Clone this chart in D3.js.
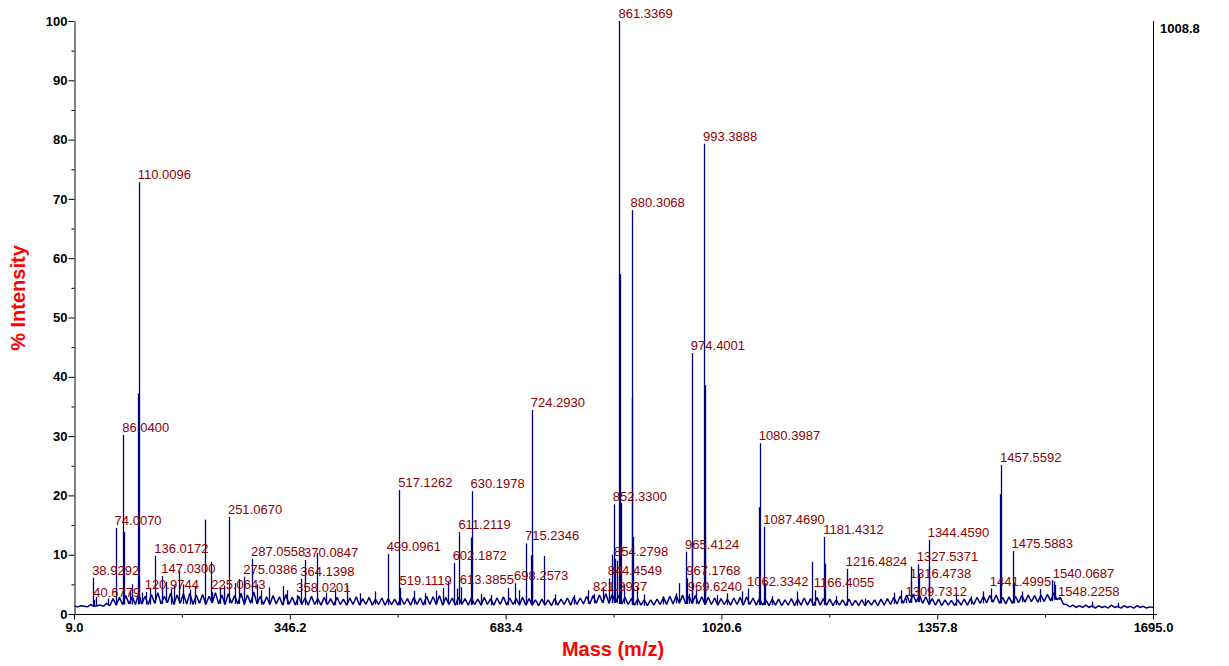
<!DOCTYPE html>
<html>
<head>
<meta charset="utf-8">
<script src="https://cdn.jsdelivr.net/npm/d3@7"></script>
<style>
  body { margin: 0; background: #fff; }
  svg { display: block; }
</style>
</head>
<body>
<div id="spectrum"></div>
<script>
// axis ticks
const xTicks = [9.0, 346.2, 683.4, 1020.6, 1357.8, 1695.0];
const xMinor = [177.6, 514.8, 852.0, 1189.2, 1526.4];
const yTicks = [0, 10, 20, 30, 40, 50, 60, 70, 80, 90, 100];
const yMinor = [5, 15, 25, 35, 45, 55, 65, 75, 85, 95];
const maxCounts = "1008.8";

// labelled peaks (m/z, % intensity)
const labelMz = [38.9292, 40.6779, 74.0070, 86.0400, 110.0096, 120.9744, 136.0172, 147.0300,
  225.0643, 251.0670, 275.0386, 287.0558, 358.0201, 364.1398, 370.0847, 499.0961, 517.1262,
  519.1119, 602.1872, 611.2119, 613.3855, 630.1978, 698.2573, 715.2346, 724.2930, 821.3937,
  844.4549, 852.3300, 854.2798, 861.3369, 880.3068, 965.4124, 967.1768, 969.6240, 974.4001,
  993.3888, 1062.3342, 1080.3987, 1087.4690, 1166.4055, 1181.4312, 1216.4824, 1309.7312,
  1316.4738, 1327.5371, 1344.4590, 1441.4995, 1457.5592, 1475.5883, 1540.0687, 1548.2258];
const labelInt = [6.1, 2.4, 14.5, 30.2, 72.8, 3.7, 9.8, 6.4,
  3.7, 16.4, 6.3, 9.3, 3.2, 5.9, 9.1, 10.1, 20.9,
  4.4, 8.6, 13.8, 4.5, 20.7, 5.2, 11.9, 34.4, 3.4,
  6.0, 18.5, 9.3, 100, 68.1, 10.5, 6.0, 3.4, 44.0,
  79.3, 4.3, 28.8, 14.7, 4.0, 13.0, 7.6, 2.6,
  5.5, 8.4, 12.5, 4.3, 25.1, 10.6, 5.5, 2.6];

// other peaks without labels
const otherMz = [43.0, 62.0, 87.0, 96.0, 100.2, 108.9, 111.0, 114.5, 128, 153, 160, 166, 173, 180,
  190, 198, 214.4, 222.7, 237, 244, 260, 267, 295, 301, 313, 336, 342, 388, 402, 417, 436, 456,
  480, 541, 558, 575, 585, 594, 607, 629.2, 645, 660, 687, 705, 723.3, 725.3, 743, 760, 790, 812,
  835, 849.6, 857, 862.3, 863.3, 869, 881.3, 882.3, 889, 900, 930, 950, 955, 975.4, 981, 994.4,
  995.4, 1013, 1030, 1053, 1079.4, 1088.5, 1100, 1138, 1162.7, 1182.4, 1200, 1245, 1290, 1301,
  1317.4, 1329, 1345.5, 1387, 1410, 1429, 1456.5, 1477.6, 1490, 1518, 1537, 1542.5, 1599, 1640];
const otherInt = [2.9, 2.6, 13.8, 4.0, 5.0, 37.2, 5.7, 3.6, 4.4, 5.4, 4.2, 4.8, 7.3, 5.0,
  4.1, 4.6, 15.9, 8.8, 4.4, 4.8, 5.2, 5.9, 5.0, 4.0, 4.5, 4.7, 4.0, 10.3, 3.6, 4.2, 4.9, 3.5,
  3.8, 3.9, 3.5, 3.9, 4.4, 5.5, 4.3, 12.9, 3.4, 3.2, 4.4, 4.0, 9.9, 10.0, 9.8, 3.3, 3.2, 4.0,
  4.4, 10.0, 9.0, 57.3, 18.7, 5.0, 36.4, 13.0, 4.5, 3.3, 3.0, 3.5, 5.2, 12.0, 4.0, 38.6,
  13.0, 3.2, 3.5, 3.8, 18.0, 5.2, 3.0, 3.8, 8.8, 8.5, 3.0, 2.6, 3.6, 4.0,
  8.0, 6.8, 8.0, 3.5, 3.0, 3.8, 20.2, 5.2, 3.8, 4.2, 5.7, 4.9, 2.1, 1.9];

// baseline noise, read every 5 m/z from 10 to 1695
const noiseStart = 10, noiseStep = 5;
const noise = [
  1.3, 1.2, 1.4, 1.3, 1.2, 1.6, 1.3, 1.4, 1.5, 1.3, 1.8, 1.4, 2.6, 1.5, 2.8, 1.6, 3.1, 1.7, 2.9, 1.6,
  3.4, 1.7, 3.0, 1.6, 3.3, 1.8, 3.6, 1.7, 3.0, 1.9, 3.5, 1.6, 3.2, 1.8, 3.4, 1.7, 3.5, 1.6, 3.2, 1.8,
  3.3, 1.6, 3.0, 1.9, 3.6, 1.7, 3.2, 1.6, 3.4, 1.8, 3.1, 1.7, 3.5, 1.6, 3.2, 1.8, 3.7, 1.7, 3.0, 1.6,
  2.9, 1.6, 3.1, 1.7, 2.9, 1.5, 3.3, 1.6, 2.8, 1.5, 3.0, 1.6, 2.7, 1.5, 3.0, 1.6, 2.6, 1.5, 2.8, 1.6,
  2.6, 1.5, 2.8, 1.6, 2.5, 1.5, 2.7, 1.6, 2.9, 1.5, 2.6, 1.6, 2.8, 1.5, 2.5, 1.6, 2.7, 1.5, 2.6, 1.6,
  2.5, 1.5, 2.7, 1.6, 2.6, 1.5, 2.8, 1.6, 2.7, 1.5, 3.0, 1.6, 2.9, 1.6, 3.1, 1.5, 2.8, 1.6, 2.7, 1.5,
  2.8, 1.6, 2.6, 1.5, 2.7, 1.6, 2.5, 1.5, 2.8, 1.6, 2.6, 1.5, 2.7, 1.6, 2.9, 1.5, 2.7, 1.6, 2.6, 1.5,
  2.8, 1.5, 2.6, 1.5, 2.4, 1.4, 2.5, 1.5, 2.4, 1.4, 2.6, 1.5, 2.5, 1.6, 2.7, 1.5, 2.8, 1.6, 2.7, 1.7,
  3.0, 1.7, 3.1, 1.8, 3.2, 1.9, 3.4, 1.8, 3.3, 1.9, 3.1, 1.7, 2.8, 1.6, 2.6, 1.5, 2.5, 1.5, 2.4, 1.4,
  2.4, 1.5, 2.5, 1.6, 2.8, 1.6, 3.0, 1.7, 3.1, 1.8, 3.2, 1.7, 3.0, 1.8, 3.1, 1.7, 2.9, 1.6, 2.8, 1.6,
  2.7, 1.5, 2.6, 1.6, 2.5, 1.5, 2.7, 1.6, 2.8, 1.5, 2.9, 1.6, 2.7, 1.5, 2.6, 1.5, 2.4, 1.4, 2.5, 1.5,
  2.5, 1.4, 2.4, 1.5, 2.6, 1.4, 2.5, 1.5, 2.7, 1.5, 2.6, 1.4, 2.8, 1.5, 2.6, 1.5, 2.5, 1.4, 2.4, 1.5,
  2.4, 1.4, 2.5, 1.4, 2.3, 1.4, 2.4, 1.4, 2.3, 1.5, 2.4, 1.4, 2.5, 1.5, 2.6, 1.6, 2.8, 1.7, 3.0, 1.8,
  3.2, 1.9, 3.3, 2.0, 3.2, 1.8, 2.9, 1.6, 2.6, 1.5, 2.5, 1.4, 2.4, 1.5, 2.3, 1.4, 2.4, 1.5, 2.5, 1.5,
  2.6, 1.6, 2.8, 1.8, 3.0, 1.9, 3.1, 2.0, 3.2, 1.8, 2.8, 1.7, 2.9, 1.8, 3.0, 1.9, 3.1, 2.0, 3.2, 2.1,
  3.1, 2.0, 3.2, 2.1, 3.3, 2.2, 3.6, 2.4, 2.8, 1.7, 1.6, 1.2, 1.5, 1.1, 1.4, 1.1, 1.5, 1.1, 1.4, 1.0,
  1.4, 1.1, 1.3, 1.0, 1.5, 1.1, 1.3, 1.0, 1.4, 1.1, 1.3, 1.0, 1.4, 1.1, 1.3, 1.0, 1.2, 1.1];

const W = 1229, H = 666;
const svg = d3.select("#spectrum").append("svg")
  .attr("width", W).attr("height", H);

const x = d3.scaleLinear().domain([9, 1695]).range([74, 1153]);
const y = d3.scaleLinear().domain([0, 100]).range([614, 21]);

const tickFont = "bold 13px Arial, 'Liberation Sans', sans-serif";

// Y axis
const yAxis = svg.append("g")
  .attr("transform", "translate(74.5,0)")
  .call(d3.axisLeft(y).tickValues(yTicks).tickSize(6).tickPadding(1).tickSizeOuter(0).tickFormat(d3.format("d")));
svg.append("g")
  .attr("transform", "translate(74.5,0)")
  .call(d3.axisLeft(y).tickValues(yMinor).tickSize(3).tickFormat("").tickSizeOuter(0))
  .select(".domain").remove();
yAxis.selectAll("text").style("font", tickFont).attr("fill", "#000");

// X axis
const xAxis = svg.append("g")
  .attr("transform", "translate(0,614.5)")
  .call(d3.axisBottom(x).tickValues(xTicks).tickSize(5).tickPadding(3).tickSizeOuter(0).tickFormat(d3.format(".1f")));
svg.append("g")
  .attr("transform", "translate(0,614.5)")
  .call(d3.axisBottom(x).tickValues(xMinor).tickSize(3).tickFormat("").tickSizeOuter(0))
  .select(".domain").remove();
xAxis.select(".domain").attr("d", `M${x(9)},0H${x(1695) + 4}`);
xAxis.selectAll("text").style("font", tickFont).attr("fill", "#000");
svg.selectAll(".tick line").attr("stroke", "#000");

// right border + max count
svg.append("line")
  .attr("x1", x(1695) + 0.5).attr("x2", x(1695) + 0.5)
  .attr("y1", y(100)).attr("y2", y(0))
  .attr("stroke", "#000");
svg.append("text")
  .attr("x", x(1695) + 7).attr("y", 33)
  .style("font", tickFont)
  .text(maxCounts);

// baseline noise
const noisePts = noise.map((v, i) => [noiseStart + i * noiseStep, v]);
svg.append("path")
  .datum(noisePts)
  .attr("fill", "none")
  .attr("stroke", "#000080")
  .attr("stroke-width", 1.5)
  .attr("stroke-linejoin", "bevel")
  .attr("d", d3.line().x(d => x(d[0])).y(d => y(d[1])));

function baseAt(m) {
  const i = Math.max(0, Math.min(noise.length - 2, Math.floor((m - noiseStart) / noiseStep)));
  return Math.min(noise[i], noise[i + 1]);
}

// peaks
const peaks = otherMz.map((m, i) => ({ mz: m, v: otherInt[i] }))
  .concat(labelMz.map((m, i) => ({ mz: m, v: labelInt[i] })));

svg.append("g").selectAll("line")
  .data(peaks)
  .join("line")
  .attr("x1", d => Math.round(x(d.mz)) + 0.5)
  .attr("x2", d => Math.round(x(d.mz)) + 0.5)
  .attr("y1", d => y(baseAt(d.mz)))
  .attr("y2", d => y(d.v))
  .attr("stroke", "#000080")
  .attr("stroke-width", 1.3);

// peak labels
svg.append("g").selectAll("text")
  .data(labelMz)
  .join("text")
  .attr("x", d => x(d) - 1)
  .attr("y", (d, i) => y(labelInt[i]) - 3)
  .attr("fill", "#8b0000")
  .style("font", "13px Arial, 'Liberation Sans', sans-serif")
  .text(d => d.toFixed(4));

// axis titles
svg.append("text")
  .attr("x", 613).attr("y", 656)
  .attr("text-anchor", "middle")
  .attr("fill", "#ff0000")
  .style("font", "bold 20px Arial, 'Liberation Sans', sans-serif")
  .text("Mass (m/z)");

svg.append("text")
  .attr("transform", "translate(25,298) rotate(-90)")
  .attr("text-anchor", "middle")
  .attr("fill", "#ff0000")
  .style("font", "bold 20px Arial, 'Liberation Sans', sans-serif")
  .text("% Intensity");
</script>
</body>
</html>
